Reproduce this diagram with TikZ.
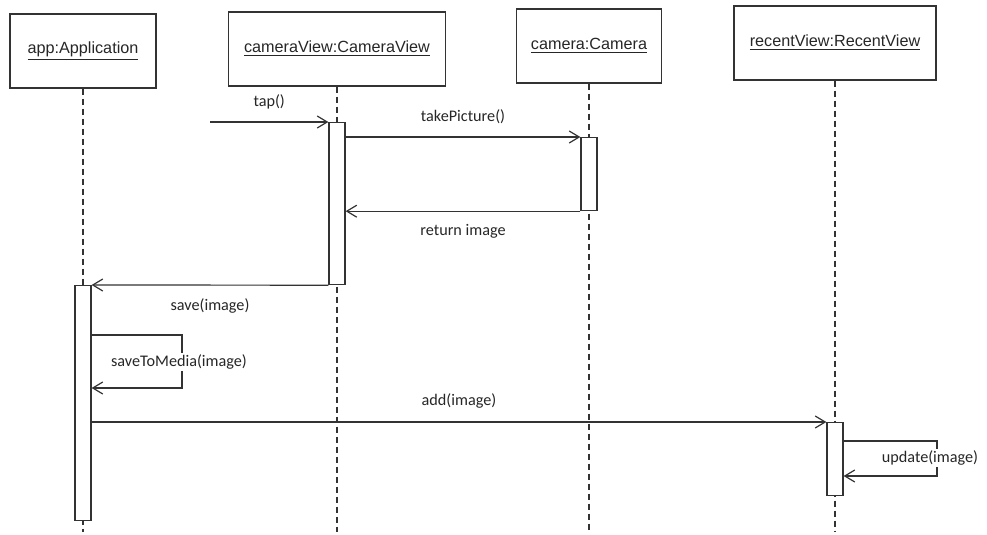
\documentclass[tikz,border=0pt]{standalone}
\usepackage{fontspec}
\setmainfont{Carlito}
\newfontfamily\objfont{Liberation Sans}
\usetikzlibrary{positioning,arrows.meta}

\begin{document}
\begin{tikzpicture}[
x=0.5pt, y=-0.5pt,
every node/.style={font=\fontsize{8.1}{10}\selectfont, text=black!85},
object/.style={
	draw, rectangle, minimum height=37pt,
	font=\objfont\fontsize{8.1}{10}\selectfont
},
act/.style={draw, fill=white, anchor=north, minimum width=8pt, inner sep=0pt},
lifeline/.style={dash pattern=on 3pt off 2pt},
msg/.style={-{Straight Barb[length=5pt,width=6pt]}},
lbl/.style={inner sep=1pt, fill=white},
line width=0.6pt, black!80
]
\useasboundingbox (0,0) rectangle (987,535);
\node[object, minimum width=73pt] (app) at (83,51) {\underline{app:Application}};
\node[object, minimum width=108.5pt] (cv) at (337,49) {\underline{cameraView:CameraView}};
\node[object, minimum width=72.5pt] (cam) at (589,46) {\underline{camera:Camera}};
\node[object, minimum width=101pt] (rv) at (835,43) {\underline{recentView:RecentView}};
\coordinate (end) at (0,532);
\foreach \o in {app,cv,cam,rv}
{
	\draw[lifeline] (\o.south) -- (\o.south |- end);
}
\node[act, minimum height=81pt] (cvact) at (cv.south |- 0,122) {};
\node[act, minimum height=36.5pt] (camact) at (cam.south |- 0,137) {};
\node[act, minimum height=117.5pt] (appact) at (app.south |- 0,285) {};
\node[act, minimum height=36.5pt] (rvact) at (rv.south |- 0,422) {};
\coordinate (user) at (210,122);
\draw[msg] (user) -- node[above=3pt] (taplbl) {tap()} (cvact.north west);
\draw[msg] (cvact.east |- camact.north) -- node[above=3pt] (takelbl) {takePicture()} (camact.north west);
\draw[msg] (camact.south west) -- node[below=3pt] (retlbl) {return image} (cvact.east |- camact.south);
\draw[msg] (cvact.south west) -- node[below=3pt] (savelbl) {save(image)} (appact.north east);
\coordinate (stmA) at (182,335);
\coordinate (stmB) at (182,388);
\draw[msg] (appact.east |- stmA) -- (stmA) -- (stmB) -- (appact.east |- stmB);
\node[lbl] (stmlbl) at (179,362) {saveToMedia(image)};
\draw[msg] (appact.east |- rvact.north) -- node[above=3pt] (addlbl) {add(image)} (rvact.north west);
\coordinate (updA) at (937,441);
\coordinate (updB) at (937,476);
\draw[msg] (rvact.east |- updA) -- (updA) -- (updB) -- (rvact.east |- updB);
\node[lbl] (updlbl) at (930,458) {update(image)};
\end{tikzpicture}
\end{document}
